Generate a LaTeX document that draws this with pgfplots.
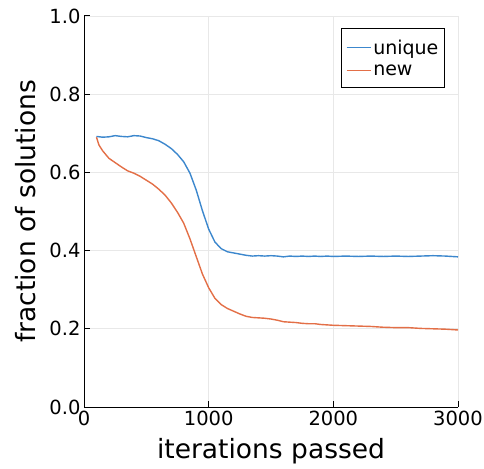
\documentclass[border=0pt]{standalone}
\usepackage{fontspec}
\setmainfont{DejaVu Sans}
\usepackage{pgfplots}
\pgfplotsset{compat=1.18}
\definecolor{cblue}{RGB}{60,135,205}
\definecolor{corange}{RGB}{227,111,71}
\definecolor{gridc}{RGB}{232,232,232}
\begin{document}
\begin{tikzpicture}
\begin{axis}[
  at={(84pt,61pt)}, anchor=south west,
  scale only axis, width=374pt, height=391pt,
  xmin=0, xmax=3000, ymin=0, ymax=1,
  axis x line*=bottom, axis y line*=left,
  axis line style={line width=1pt, black, -},
  xtick={0,1000,2000,3000}, ytick={0,0.2,0.4,0.6,0.8,1.0},
  tick align=inside, major tick length=6pt,
  tick style={line width=1pt, black},
  grid=major, major grid style={gridc, line width=0.6pt},
  /pgf/number format/assume math mode=true,
  x tick label style={/pgf/number format/.cd, set thousands separator={}, fixed},
  y tick label style={/pgf/number format/.cd, fixed, fixed zerofill, precision=1},
  ticklabel style={font=\fontsize{19.5}{22}\selectfont},
  xlabel={iterations passed}, ylabel={fraction of solutions},
  label style={font=\fontsize{26.5}{30}\selectfont},
  xlabel style={yshift=-6pt},
  ylabel style={yshift=7pt},
  legend style={at={(0.965,0.969)}, anchor=north east, draw=black, line width=1pt,
    font=\fontsize{19}{22}\selectfont, inner xsep=4pt, inner ysep=9pt,
    row sep=5pt},
  legend cell align=left,
  legend image code/.code={\draw[#1, line width=1.3pt] (0,0) -- (24pt,0);},
]
\addplot[cblue, line width=1.4pt] coordinates {
(100,0.692)(150,0.690)(200,0.691)(250,0.694)(300,0.692)(350,0.691)(400,0.694)(450,0.693)
(500,0.689)(550,0.686)(600,0.681)(650,0.672)(700,0.661)(750,0.646)(800,0.627)(850,0.598)
(900,0.555)(950,0.502)(1000,0.455)(1050,0.422)(1100,0.405)(1150,0.397)(1200,0.394)(1250,0.391)
(1300,0.388)(1350,0.386)(1400,0.387)(1450,0.386)(1500,0.387)(1550,0.386)(1600,0.384)(1650,0.386)
(1700,0.385)(1750,0.386)(1800,0.385)(1850,0.386)(1900,0.385)(1950,0.386)(2000,0.385)(2100,0.386)
(2200,0.385)(2300,0.386)(2400,0.385)(2500,0.386)(2600,0.385)(2700,0.386)(2800,0.387)(2900,0.386)(3000,0.384)
};
\addlegendentry{unique}
\addplot[corange, line width=1.4pt] coordinates {
(100,0.690)(120,0.670)(150,0.655)(200,0.636)(250,0.625)(300,0.614)(350,0.604)(400,0.598)
(450,0.590)(500,0.580)(550,0.570)(600,0.557)(650,0.542)(700,0.522)(750,0.498)(800,0.470)
(850,0.430)(900,0.385)(950,0.340)(1000,0.305)(1050,0.278)(1100,0.262)(1150,0.252)(1200,0.245)
(1250,0.238)(1300,0.232)(1350,0.229)(1400,0.228)(1450,0.227)(1500,0.225)(1550,0.222)(1600,0.218)
(1650,0.217)(1700,0.216)(1750,0.214)(1800,0.213)(1850,0.213)(1900,0.211)(1950,0.210)(2000,0.209)
(2100,0.208)(2200,0.207)(2300,0.206)(2400,0.204)(2500,0.203)(2600,0.203)(2700,0.201)(2800,0.200)
(2900,0.199)(3000,0.197)
};
\addlegendentry{new}
\end{axis}
\pgfresetboundingbox
\path (0,0) rectangle (484pt,468pt);
\end{tikzpicture}
\end{document}
